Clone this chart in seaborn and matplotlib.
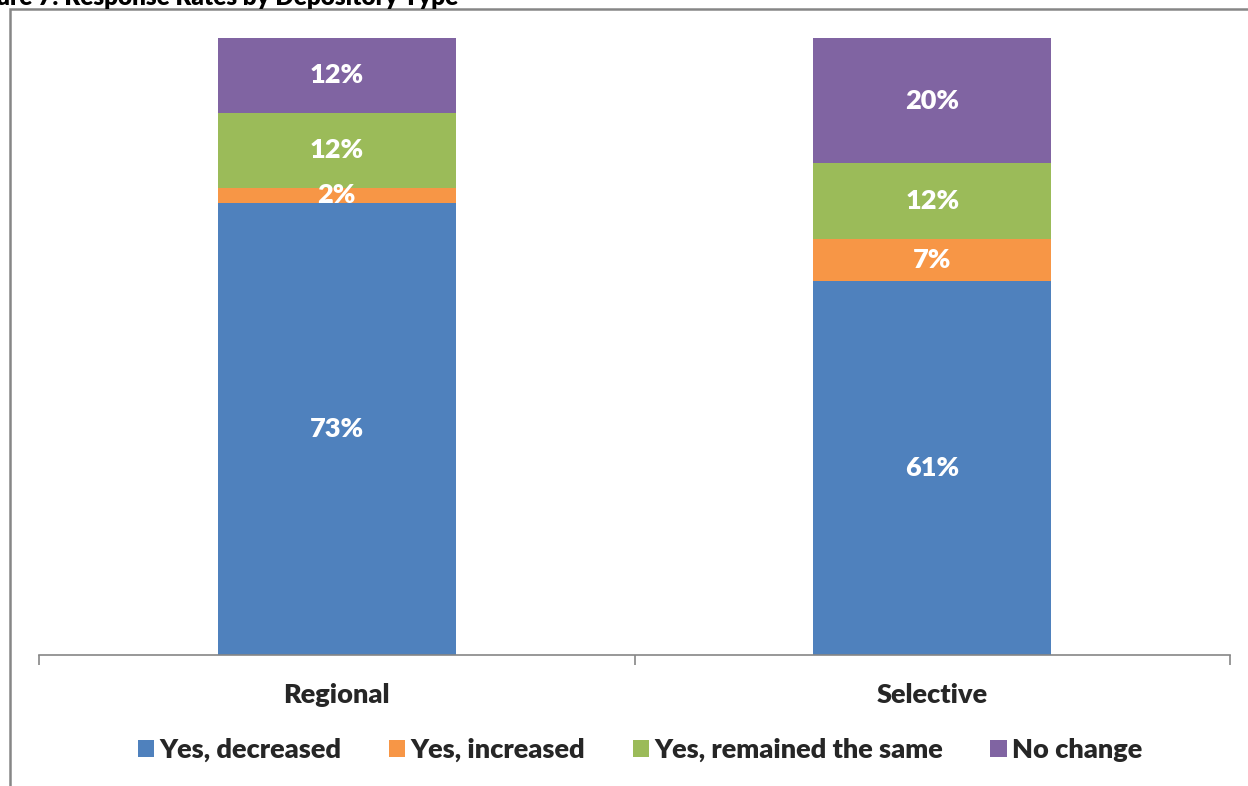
import numpy as np
import matplotlib
matplotlib.use("Agg")
import matplotlib.pyplot as plt
import seaborn as sns
from matplotlib.patches import Patch, Rectangle

categories = ["Regional", "Selective"]
series_names = ["Yes, decreased", "Yes, increased", "Yes, remained the same", "No change"]
decreased = [73.3, 60.6]
increased = [2.4, 6.8]
remained = [12.2, 12.3]
no_change = [12.1, 20.3]
labels = [["73%", "61%"], ["2%", "7%"], ["12%", "12%"], ["12%", "20%"]]
colors = ["#4F81BD", "#F79646", "#9BBB59", "#8064A2"]

sns.set_style("white")
plt.rcParams["font.family"] = ["Lato", "DejaVu Sans"]
WEIGHT = "heavy"

fig = plt.figure(figsize=(12.48, 7.86), dpi=100)
W, H = 1248, 786
ax = fig.add_axes([39 / W, 131 / H, 1191 / W, 617 / H])

values = np.array([decreased, increased, remained, no_change])
cum = values.cumsum(axis=0)

# draw cumulative bars from the top down so each lower segment covers the one above
for i in reversed(range(len(series_names))):
    sns.barplot(x=categories, y=cum[i], color=colors[i], width=0.4,
                saturation=1, ax=ax, linewidth=0)

for i in range(len(series_names)):
    for j in range(len(categories)):
        mid = cum[i][j] - values[i][j] / 2
        ax.text(j, mid, labels[i][j], ha="center", va="center", color="white",
                fontsize=19.5, fontweight=WEIGHT)

ax.set_xlim(-0.5, 1.5)
ax.set_ylim(0, 100)
ax.set_yticks([])
ax.set_ylabel("")
ax.set_xticks([0, 1])
ax.set_xticklabels(categories, fontsize=19.5, fontweight=WEIGHT)
ax.tick_params(axis="x", which="major", length=0, pad=20)
ax.set_xticks([-0.5, 0.5, 1.5], minor=True)
ax.tick_params(axis="x", which="minor", bottom=True, length=7, width=1.2,
               color="#868686", direction="out")
for s in ["left", "right", "top"]:
    ax.spines[s].set_visible(False)
ax.spines["bottom"].set_color("#868686")
ax.spines["bottom"].set_linewidth(1.2)

# outer chart border, partly cut off by the image edge
fig.patches.append(Rectangle((10 / W, -0.1), 1.2, 1 - 9 / H + 0.1, transform=fig.transFigure,
                             fill=False, edgecolor="#868686", linewidth=1.8))

# caption above the chart, cut off by the top edge as in the source image
fig.text(458 / W, 1 - 5 / H, "Figure 7: Response Rates by Depository Type", ha="right",
         va="baseline", fontsize=17.5, fontweight=WEIGHT, color="black")

handles = [Patch(facecolor=c, edgecolor="none") for c in colors]
fig.legend(handles, series_names, loc="center", bbox_to_anchor=(640 / W, 1 - 750 / H),
           ncol=4, frameon=False, handlelength=0.6, handleheight=0.6, handletextpad=0.2,
           columnspacing=1.75, prop={"size": 19.5, "weight": WEIGHT})

fig.savefig("out.png", dpi=100)
